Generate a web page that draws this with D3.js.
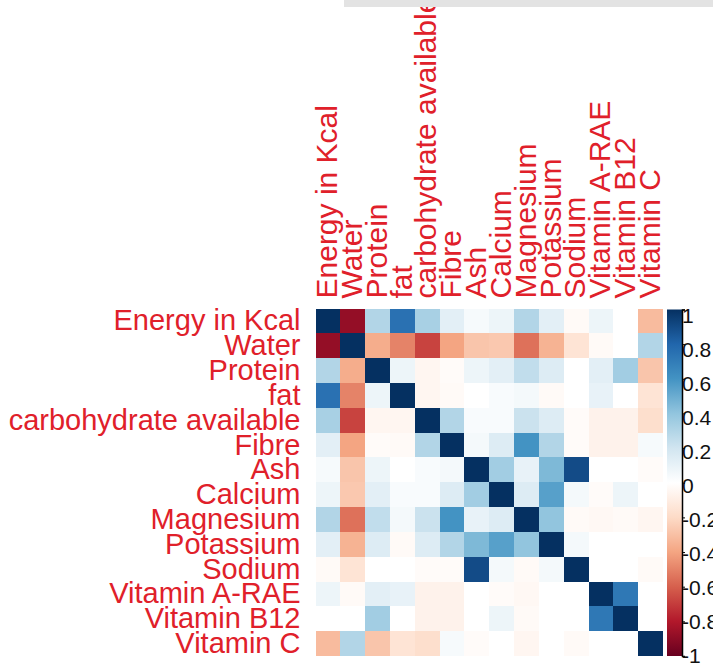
<!DOCTYPE html>
<html>
<head>
<meta charset="utf-8">
<script src="https://cdn.jsdelivr.net/npm/d3@7"></script>
<style>
  html, body { margin: 0; padding: 0; background: #ffffff; }
  svg { display: block; }
</style>
</head>
<body>
<svg id="chart" width="713" height="665"></svg>
<script>
// ---- data ----
const variables = ["Energy in Kcal", "Water", "Protein", "fat", "carbohydrate available",
  "Fibre", "Ash", "Calcium", "Magnesium", "Potassium", "Sodium",
  "Vitamin A-RAE", "Vitamin B12", "Vitamin C"];

const corrMatrix = [
  [ 1.00, -0.88,  0.30,  0.75,  0.33,  0.12,  0.04,  0.08,  0.30,  0.12, -0.03,  0.08,  0.00, -0.32],
  [-0.88,  1.00, -0.37, -0.50, -0.68, -0.40, -0.28, -0.27, -0.55, -0.35, -0.15, -0.03,  0.00,  0.30],
  [ 0.30, -0.37,  1.00,  0.08, -0.05, -0.02,  0.08,  0.12,  0.25,  0.15,  0.00,  0.12,  0.35, -0.28],
  [ 0.75, -0.50,  0.08,  1.00, -0.05, -0.03,  0.00,  0.03,  0.05, -0.03,  0.00,  0.10,  0.00, -0.15],
  [ 0.33, -0.68, -0.05, -0.05,  1.00,  0.30,  0.03,  0.03,  0.22,  0.15, -0.02, -0.07, -0.07, -0.18],
  [ 0.12, -0.40, -0.02, -0.03,  0.30,  1.00,  0.05,  0.15,  0.60,  0.30, -0.02, -0.07, -0.07,  0.04],
  [ 0.04, -0.28,  0.08,  0.00,  0.03,  0.05,  1.00,  0.35,  0.10,  0.45,  0.90,  0.00,  0.00, -0.02],
  [ 0.08, -0.27,  0.12,  0.03,  0.03,  0.15,  0.35,  1.00,  0.15,  0.55,  0.05, -0.02,  0.08,  0.00],
  [ 0.30, -0.55,  0.25,  0.05,  0.22,  0.60,  0.10,  0.15,  1.00,  0.40, -0.03, -0.04, -0.03, -0.05],
  [ 0.12, -0.35,  0.15, -0.03,  0.15,  0.30,  0.45,  0.55,  0.40,  1.00,  0.05,  0.00,  0.00,  0.00],
  [-0.03, -0.15,  0.00,  0.00, -0.02, -0.02,  0.90,  0.05, -0.03,  0.05,  1.00,  0.00,  0.00, -0.03],
  [ 0.08, -0.03,  0.12,  0.10, -0.07, -0.07,  0.00, -0.02, -0.04,  0.00,  0.00,  1.00,  0.72,  0.00],
  [ 0.00,  0.00,  0.35,  0.00, -0.07, -0.07,  0.00,  0.08, -0.03,  0.00,  0.00,  0.72,  1.00,  0.00],
  [-0.32,  0.30, -0.28, -0.15, -0.18,  0.04, -0.02,  0.00, -0.05,  0.00, -0.03,  0.00,  0.00,  1.00]
];

const legendTicks = [1, 0.8, 0.6, 0.4, 0.2, 0, -0.2, -0.4, -0.6, -0.8, -1];
const legendLabels = ["1", "0.8", "0.6", "0.4", "0.2", "0", "-0.2", "-0.4", "-0.6", "-0.8", "-1"];

const paletteStops = [-1, -0.8, -0.6, -0.4, -0.2, 0, 0.2, 0.4, 0.6, 0.8, 1];
const paletteColors = ["#67001F", "#B2182B", "#D6604D", "#F4A582", "#FDDBC7", "#FFFFFF",
  "#D1E5F0", "#92C5DE", "#4393C3", "#2166AC", "#053061"];

// ---- layout ----
const svg = d3.select("#chart");
const gridLeft = 315.5, gridTop = 308.5, gridSize = 347.5;
const labelColor = "#e0202a";
const fontFam = "'Liberation Sans', Arial, sans-serif";
const rowLabelSize = 29;
const colLabelSize = 30;

const color = d3.scaleLinear().domain(paletteStops).range(paletteColors)
  .interpolate(d3.interpolateRgb).clamp(true);

const x = d3.scaleBand().domain(variables).range([gridLeft, gridLeft + gridSize]);
const y = d3.scaleBand().domain(variables).range([gridTop, gridTop + gridSize]);

const cells = [];
corrMatrix.forEach((row, i) => row.forEach((v, j) => cells.push({r: variables[i], c: variables[j], v})));

svg.append("g").selectAll("rect").data(cells).join("rect")
  .attr("x", d => x(d.c))
  .attr("y", d => y(d.r))
  .attr("width", x.bandwidth() + 0.4)
  .attr("height", y.bandwidth() + 0.4)
  .attr("fill", d => color(d.v))
  .attr("shape-rendering", "crispEdges");

// row labels
svg.append("g").selectAll("text").data(variables).join("text")
  .attr("x", gridLeft - 15)
  .attr("y", d => y(d) + y.bandwidth() / 2 + 19 * 0.5)
  .attr("text-anchor", "end")
  .attr("font-family", fontFam)
  .attr("font-size", rowLabelSize)
  .attr("fill", labelColor)
  .text(d => d);

// column labels
svg.append("g").selectAll("text").data(variables).join("text")
  .attr("transform", d => `translate(${x(d) + x.bandwidth() / 2 + colLabelSize * 0.31},${gridTop - 10}) rotate(-90)`)
  .attr("text-anchor", "start")
  .attr("font-family", fontFam)
  .attr("font-size", colLabelSize)
  .attr("fill", labelColor)
  .text(d => d);

// colour legend
const barX = 667, barW = 15, barTop = 309.5, barBottom = 656;
const ly = d3.scaleLinear().domain([1, -1]).range([barTop, barBottom]);
const labelY = d3.scaleLinear().domain([1, -1]).range([315, 655]);
const defs = svg.append("defs");
const grad = defs.append("linearGradient").attr("id", "cbar")
  .attr("x1", 0).attr("y1", 1).attr("x2", 0).attr("y2", 0);
paletteStops.forEach((s, i) => grad.append("stop")
  .attr("offset", (s + 1) / 2).attr("stop-color", paletteColors[i]));
svg.append("rect").attr("x", barX).attr("y", barTop).attr("width", barW)
  .attr("height", barBottom - barTop).attr("fill", "url(#cbar)");

const axis = d3.axisRight(ly).tickValues(legendTicks).tickSize(3).tickFormat(() => "");
const axG = svg.append("g").attr("transform", `translate(${barX + barW},0)`).call(axis);
axG.select(".domain").attr("stroke", "#000").attr("stroke-width", 1.5);
axG.selectAll(".tick line").attr("stroke", "#000");

svg.append("g").selectAll("text").data(legendTicks).join("text")
  .attr("x", barX + barW)
  .attr("y", d => labelY(d) + 7.5)
  .attr("font-family", fontFam)
  .attr("font-size", 21)
  .attr("fill", "#111")
  .text((d, i) => legendLabels[i]);

// grey strip at the very top of the screenshot
svg.append("rect").attr("x", 344).attr("y", 0).attr("width", 369).attr("height", 7)
  .attr("fill", "#e3e3e3");
</script>
</body>
</html>
